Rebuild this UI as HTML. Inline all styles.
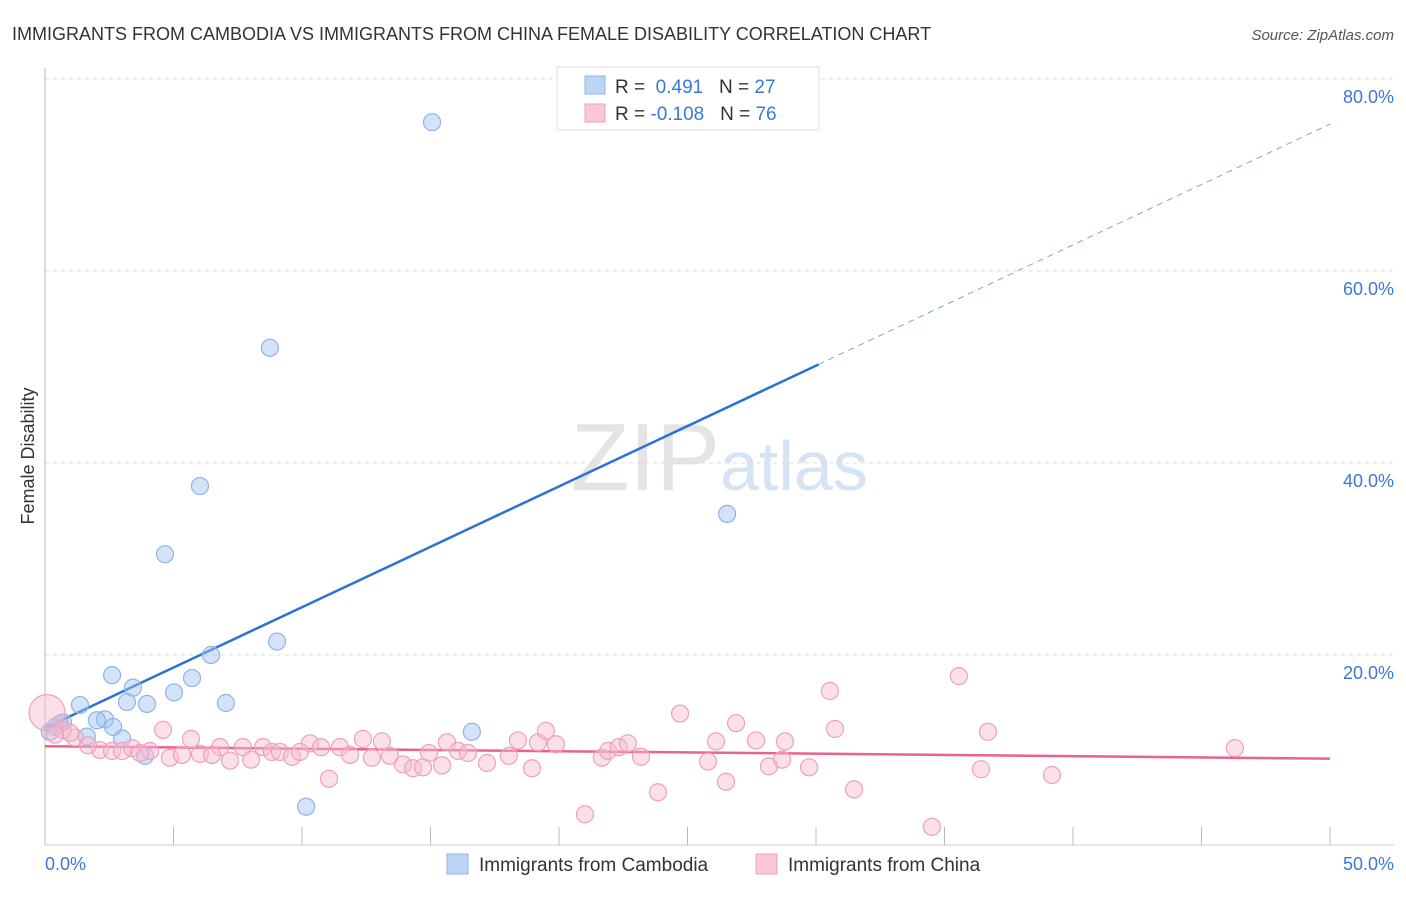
<!DOCTYPE html>
<html><head><meta charset="utf-8"><style>
body{margin:0;background:#fff;font-family:"Liberation Sans",sans-serif}
svg text{font-family:"Liberation Sans",sans-serif}
</style></head><body>
<svg id="chart" width="1406" height="892">
<text x="12" y="40" font-size="18" fill="#333">IMMIGRANTS FROM CAMBODIA VS IMMIGRANTS FROM CHINA FEMALE DISABILITY CORRELATION CHART</text>
<text x="1394" y="40" font-size="15" fill="#555" font-style="italic" text-anchor="end">Source: ZipAtlas.com</text>
<text x="720" y="490" font-size="96" fill="#e4e4e4" font-family="Liberation Serif" text-anchor="end">ZIP</text>
<text x="720" y="490" font-size="70" fill="#d4e3f5">atlas</text>
<g id="grid"></g><g id="axes"></g><g id="lines"></g><g id="dots"></g>
<text transform="translate(34,456) rotate(-90)" font-size="18" fill="#333" text-anchor="middle">Female Disability</text>
<text x="45" y="870" font-size="18" fill="#3b78d8">0.0%</text>
<text x="1394" y="870" font-size="18" fill="#3b78d8" text-anchor="end">50.0%</text>
<g>
<rect x="557" y="67" width="262" height="63" fill="#fff" stroke="#ddd"/>
<rect x="585" y="76" width="20" height="18" fill="#bcd5f5" stroke="#8fb3e8"/>
<rect x="585" y="104" width="20" height="18" fill="#f9c8d8" stroke="#eea0bb"/>
<text x="615" y="93" font-size="19" fill="#333">R = <tspan fill="#3b78d8">&#160;0.491</tspan>&#160;&#160;&#160;N = <tspan fill="#3b78d8">27</tspan></text>
<text x="615" y="120" font-size="19" fill="#333">R = <tspan fill="#3b78d8">-0.108</tspan>&#160;&#160;&#160;N = <tspan fill="#3b78d8">76</tspan></text>
</g>
<g>
<rect x="447" y="854" width="21" height="20" fill="#bcd5f5" stroke="#8fb3e8"/>
<text x="479" y="871" font-size="19" fill="#333">Immigrants from Cambodia</text>
<rect x="756" y="854" width="21" height="20" fill="#f9c8d8" stroke="#eea0bb"/>
<text x="788" y="871" font-size="19" fill="#333">Immigrants from China</text>
</g>
</svg>
<script>
const yTicks=[20,40,60,80];
const yTickLabels=["20.0%","40.0%","60.0%","80.0%"];
const xTicks=[0,5,10,15,20,25,30,35,40,45,50];
const cambodiaX=[15.06,8.75,6.03,4.67,26.54,9.03,6.46,2.61,5.72,3.42,5.02,7.04,3.19,3.97,1.36,16.61,2.33,2.02,0.70,0.39,1.63,3.00,3.89,10.16,0.19,0.58,2.65];
const cambodiaY=[75.5,52.0,37.6,30.5,34.7,21.4,20.0,17.9,17.6,16.6,16.1,15.0,15.1,14.9,14.8,12.0,13.3,13.2,13.0,12.5,11.5,11.3,9.5,4.2,12.0,12.8,12.5];
const chinaX=[0.08,4.59,1.17,5.68,6.81,7.70,8.48,10.31,10.74,11.48,12.37,13.11,15.64,16.07,16.46,14.94,2.14,2.61,3.00,3.39,4.09,3.70,4.86,5.33,6.03,6.50,7.20,8.02,8.83,9.14,9.61,9.92,11.87,12.72,13.42,13.93,14.32,14.71,15.45,17.20,11.05,0.70,0.97,18.05,18.40,18.95,19.18,19.49,19.88,21.01,21.67,21.91,22.33,22.68,23.19,23.85,24.71,25.80,26.11,26.50,26.89,27.67,28.17,28.68,28.79,29.73,30.54,30.74,31.48,35.56,36.69,36.42,39.18,46.30,34.51,0.39,1.67];
const chinaY=[14.0,12.2,11.4,11.25,10.4,10.4,10.4,10.8,10.4,10.4,11.25,11.0,10.9,10.0,9.8,9.8,10.1,10.0,10.0,10.3,10.0,9.8,9.3,9.6,9.7,9.6,9.0,9.1,9.9,9.9,9.4,9.9,9.6,9.3,9.5,8.6,8.2,8.3,8.5,8.75,7.1,12.2,11.9,9.5,11.1,8.2,10.9,12.1,10.7,3.4,9.3,10.0,10.4,10.8,9.4,5.7,13.9,8.9,11.0,6.8,12.9,11.1,8.4,9.1,11.0,8.3,16.25,12.3,6.0,17.8,12.0,8.1,7.5,10.3,2.1,11.7,10.6];
const cambodiaTrend=[12.4,75.3]; // y at x=0 and x=50
const chinaTrend=[10.5,9.2];
const solidEnd=30.1;
const X=v=>45+v*25.7, Y=v=>847-v*9.6;
const NS="http://www.w3.org/2000/svg";
function mk(parent,tag,attrs){const e=document.createElementNS(NS,tag);for(const k in attrs)e.setAttribute(k,attrs[k]);document.getElementById(parent).appendChild(e);return e;}
yTicks.forEach((t,i)=>{
 const l=mk('grid','line',{x1:45,x2:1394,y1:Y(t),y2:Y(t),stroke:'#ddd','stroke-dasharray':'4,4'});
 
 
 const tx=mk('grid','text',{x:1394,y:Y(t)+24,'font-size':18,fill:'#3b78d8','text-anchor':'end'});
 tx.textContent=yTickLabels[i];
 
 
});
const ya=mk('axes','line',{x1:45,x2:45,y1:68,y2:845,stroke:'#bbb'});


const xa=mk('axes','line',{x1:45,x2:1394,y1:845,y2:845,stroke:'#ccc'});


xTicks.forEach(t=>{
 const l=mk('axes','line',{x1:X(t),x2:X(t),y1:827,y2:845,stroke:'#bbb'});
 
 
});
const cy=x=>cambodiaTrend[0]+(cambodiaTrend[1]-cambodiaTrend[0])*x/50;
const hy=x=>chinaTrend[0]+(chinaTrend[1]-chinaTrend[0])*x/50;
cambodiaX.forEach((x,i)=>{
 const c=mk('dots','circle',{cx:X(x),cy:Y(cambodiaY[i]),r:8.5,fill:'rgba(160,196,240,0.45)',stroke:'#8fb3e8','stroke-width':1.2});
 
 
});
chinaX.forEach((x,i)=>{
 const c=mk('dots','circle',{cx:X(x),cy:Y(chinaY[i]),r:i===0?18:8.5,fill:'rgba(248,186,206,0.45)',stroke:'#eea0bb','stroke-width':1.2});
 
 
});
const b1=mk('lines','line',{x1:X(0),y1:Y(cy(0)),x2:X(solidEnd),y2:Y(cy(solidEnd)),stroke:'#2a72d8','stroke-width':2.5});


const b2=mk('lines','line',{x1:X(solidEnd),y1:Y(cy(solidEnd)),x2:X(50),y2:Y(cy(50)),stroke:'#7aa6e0','stroke-width':1,'stroke-dasharray':'6,5'});


const p1=mk('lines','line',{x1:X(0),y1:Y(hy(0)),x2:X(50),y2:Y(hy(50)),stroke:'#e8638e','stroke-width':2.5});


</script>
</body></html>
